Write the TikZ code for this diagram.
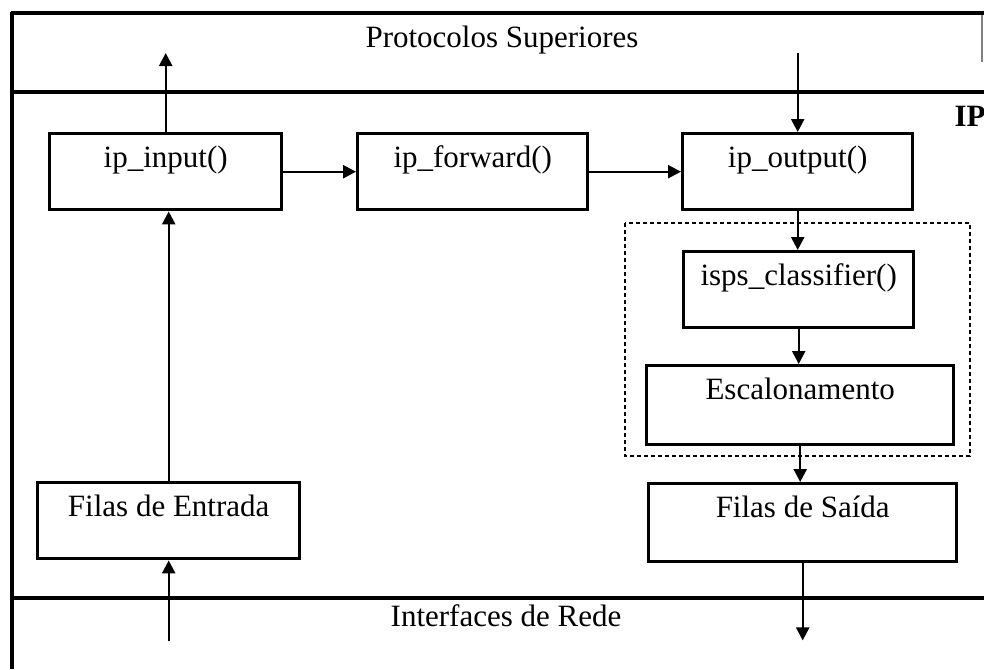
\documentclass[tikz,border=0pt]{standalone}
\usepackage{fontspec}
\setmainfont{Liberation Serif}
\usetikzlibrary{arrows.meta,calc}
\begin{document}
\begin{tikzpicture}[x=0.5pt,y=-0.5pt,
  box/.style={draw, line width=1.7pt, anchor=north west, inner sep=0pt,
    text height=17pt, text depth=21pt, font=\fontsize{15.5}{18}\selectfont},
  arr/.style={line width=1.2pt, -{Triangle[length=6.5pt,width=6.5pt]}},
  frameline/.style={line width=2.2pt},
  lbl/.style={font=\fontsize{15.5}{18}\selectfont, inner sep=0pt}]
\useasboundingbox (0,0) rectangle (984,669);
% frame
\draw[frameline] (11,13) -- (984,13);
\draw[frameline] (12,12) -- (12,669);
\draw[line width=1.6pt] (12,92) -- (984,92);
\draw[line width=1.9pt] (12,598) -- (984,598);
\draw[gray, line width=0.6pt] (982,15) -- (982,62);
% labels
\node[lbl, anchor=base] (ps) at (502,47) {Protocolos Superiores};
\node[lbl, anchor=base] (ir) at (506,626) {Interfaces de Rede};
\node[lbl, anchor=base east, font=\fontsize{15.5}{18}\selectfont\bfseries] (ip) at (986,126) {IP};
% boxes
\node[box, minimum width=116pt] (ipin) at (48,132) {ip\_input()};
\node[box, minimum width=115pt] (ipfwd) at (356,132) {ip\_forward()};
\node[box, minimum width=115pt] (ipout) at (681,132) {ip\_output()};
\draw[line width=1pt, dash pattern=on 2pt off 1.5pt] (625,223) rectangle (970,456);
\node[box, minimum width=115pt] (isps) at (682,250) {isps\_classifier()};
\node[box, minimum width=153.5pt, text depth=22.5pt] (esc) at (645,364) {Escalonamento};
\node[box, minimum width=154pt, text depth=22pt] (fs) at (647,482) {Filas de Saída};
\node[box, minimum width=131pt] (fe) at (36,481) {Filas de Entrada};
% free ends
\path (ipin.north) ++(0,-79) coordinate (upT);
\path (ipout.north) ++(0,-79) coordinate (dnT);
\path (fe.south) ++(0,81) coordinate (inB);
\path (fs.south) ++(0,77) coordinate (outB);
% connectors
\draw[arr] (ipin.north) -- (upT);
\draw[arr] (dnT) -- (ipout.north);
\draw[arr] (ipin.east) -- (ipfwd.west);
\draw[arr] (ipfwd.east) -- (ipout.west);
\draw[arr] (ipout.south) -- (ipout.south |- isps.north);
\draw[arr] (isps.south) -- (isps.south |- esc.north);
\draw[arr] (esc.south) -- (esc.south |- fs.north);
\draw[arr] (fs.south) -- (outB);
\draw[arr] (inB) -- (fe.south);
\draw[arr] (fe.north) -- (fe.north |- ipin.south);
\end{tikzpicture}
\end{document}
